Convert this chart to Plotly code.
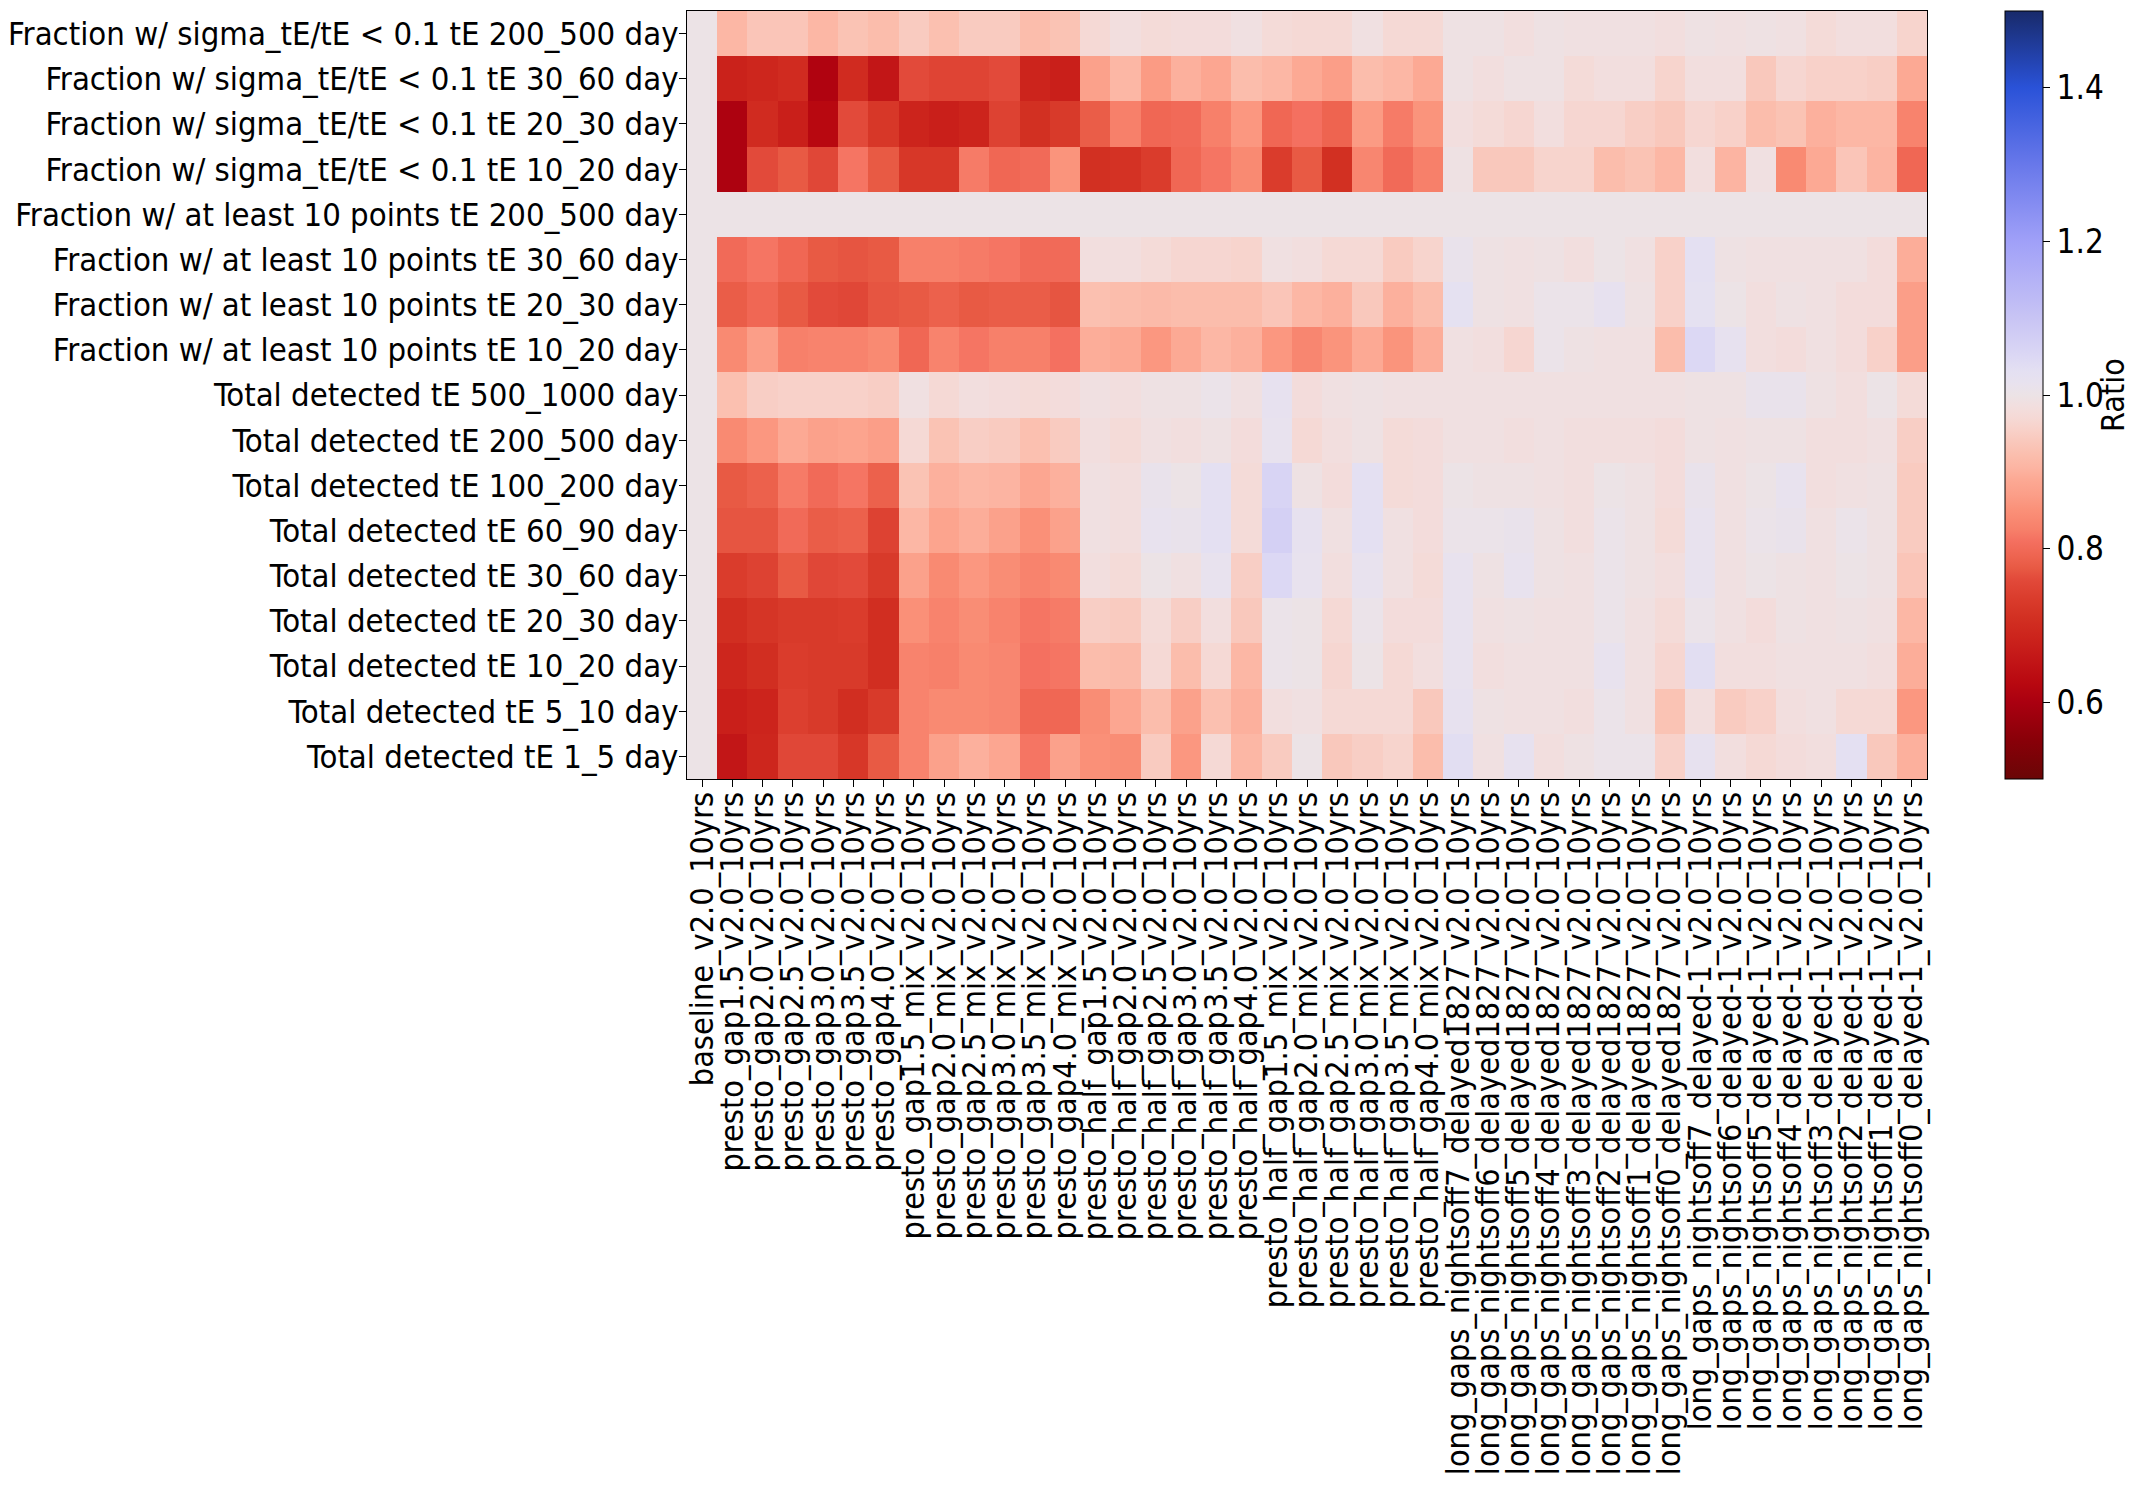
import plotly.graph_objects as go

# run names (columns)
runs = [
    "baseline_v2.0_10yrs",
    "presto_gap1.5_v2.0_10yrs", "presto_gap2.0_v2.0_10yrs", "presto_gap2.5_v2.0_10yrs",
    "presto_gap3.0_v2.0_10yrs", "presto_gap3.5_v2.0_10yrs", "presto_gap4.0_v2.0_10yrs",
    "presto_gap1.5_mix_v2.0_10yrs", "presto_gap2.0_mix_v2.0_10yrs", "presto_gap2.5_mix_v2.0_10yrs",
    "presto_gap3.0_mix_v2.0_10yrs", "presto_gap3.5_mix_v2.0_10yrs", "presto_gap4.0_mix_v2.0_10yrs",
    "presto_half_gap1.5_v2.0_10yrs", "presto_half_gap2.0_v2.0_10yrs", "presto_half_gap2.5_v2.0_10yrs",
    "presto_half_gap3.0_v2.0_10yrs", "presto_half_gap3.5_v2.0_10yrs", "presto_half_gap4.0_v2.0_10yrs",
    "presto_half_gap1.5_mix_v2.0_10yrs", "presto_half_gap2.0_mix_v2.0_10yrs", "presto_half_gap2.5_mix_v2.0_10yrs",
    "presto_half_gap3.0_mix_v2.0_10yrs", "presto_half_gap3.5_mix_v2.0_10yrs", "presto_half_gap4.0_mix_v2.0_10yrs",
    "long_gaps_nightsoff7_delayed1827_v2.0_10yrs", "long_gaps_nightsoff6_delayed1827_v2.0_10yrs",
    "long_gaps_nightsoff5_delayed1827_v2.0_10yrs", "long_gaps_nightsoff4_delayed1827_v2.0_10yrs",
    "long_gaps_nightsoff3_delayed1827_v2.0_10yrs", "long_gaps_nightsoff2_delayed1827_v2.0_10yrs",
    "long_gaps_nightsoff1_delayed1827_v2.0_10yrs", "long_gaps_nightsoff0_delayed1827_v2.0_10yrs",
    "long_gaps_nightsoff7_delayed-1_v2.0_10yrs", "long_gaps_nightsoff6_delayed-1_v2.0_10yrs",
    "long_gaps_nightsoff5_delayed-1_v2.0_10yrs", "long_gaps_nightsoff4_delayed-1_v2.0_10yrs",
    "long_gaps_nightsoff3_delayed-1_v2.0_10yrs", "long_gaps_nightsoff2_delayed-1_v2.0_10yrs",
    "long_gaps_nightsoff1_delayed-1_v2.0_10yrs", "long_gaps_nightsoff0_delayed-1_v2.0_10yrs",
]

# metric names (rows, top to bottom)
metrics = [
    "Fraction w/ sigma_tE/tE < 0.1 tE 200_500 day",
    "Fraction w/ sigma_tE/tE < 0.1 tE 30_60 day",
    "Fraction w/ sigma_tE/tE < 0.1 tE 20_30 day",
    "Fraction w/ sigma_tE/tE < 0.1 tE 10_20 day",
    "Fraction w/ at least 10 points tE 200_500 day",
    "Fraction w/ at least 10 points tE 30_60 day",
    "Fraction w/ at least 10 points tE 20_30 day",
    "Fraction w/ at least 10 points tE 10_20 day",
    "Total detected tE 500_1000 day",
    "Total detected tE 200_500 day",
    "Total detected tE 100_200 day",
    "Total detected tE 60_90 day",
    "Total detected tE 30_60 day",
    "Total detected tE 20_30 day",
    "Total detected tE 10_20 day",
    "Total detected tE 5_10 day",
    "Total detected tE 1_5 day",
]

# ratio to baseline, one list per metric
sigma_200_500 = [1.0, .91, .935, .935, .91, .93, .92, .945, .925, .945, .945, .92, .93, .97, .985, .975, .98, .98, .99, .975,
                 .97, .97, .99, .97, .97, .995, .995, .985, .995, .99, .99, .99, .985, .995, .99, .995, .99, .975, .985, .985, .96]
sigma_30_60 = [1.0, .68, .69, .70, .61, .70, .655, .76, .75, .75, .76, .685, .675, .875, .91, .865, .90, .885, .92, .91,
               .89, .87, .92, .91, .89, .995, .985, .995, .995, .975, .985, .985, .96, .985, .985, .94, .965, .955, .955, .95, .89]
sigma_20_30 = [1.0, .605, .70, .675, .625, .76, .725, .685, .675, .685, .745, .71, .73, .78, .825, .795, .80, .825, .86, .795,
               .81, .79, .865, .82, .855, .985, .975, .965, .985, .965, .965, .95, .94, .965, .955, .92, .93, .90, .91, .91, .83]
sigma_10_20 = [1.0, .605, .76, .775, .755, .815, .775, .725, .725, .82, .795, .80, .855, .71, .715, .735, .795, .815, .84, .735,
               .775, .71, .835, .80, .825, .995, .94, .94, .96, .96, .92, .93, .91, .985, .905, .99, .84, .89, .935, .905, .795]
pts_200_500 = [1.0] * 41
pts_30_60 = [1.0, .80, .815, .795, .775, .77, .775, .825, .825, .82, .815, .80, .80, .985, .985, .975, .965, .965, .96, .99,
             .985, .97, .97, .945, .96, 1.01, .995, .99, .995, .985, 1.0, .99, .955, 1.03, .995, .99, .99, .99, .99, .98, .895]
pts_20_30 = [1.0, .78, .795, .775, .76, .755, .77, .775, .785, .775, .78, .78, .77, .925, .92, .915, .92, .92, .92, .935,
             .91, .90, .94, .90, .92, 1.025, .995, .99, 1.005, 1.005, 1.02, .995, .955, 1.025, 1.0, .985, .995, .99, .98, .98, .87]
pts_10_20 = [1.0, .84, .87, .825, .83, .83, .84, .795, .83, .815, .825, .825, .81, .895, .89, .86, .89, .91, .90, .86,
             .835, .855, .89, .855, .895, .99, .985, .965, 1.005, .995, .99, .99, .92, 1.05, 1.02, .985, .98, .99, .98, .955, .87]
tot_500_1000 = [1.0, .925, .95, .955, .955, .955, .95, .99, .97, .985, .98, .975, .98, .99, .985, .995, .995, 1.005, .99, 1.02,
                .98, .99, .995, .99, .99, .99, .99, .99, .99, .99, .99, .99, .99, .995, .995, 1.01, 1.01, .995, .985, 1.0, .975]
tot_200_500 = [1.0, .84, .86, .89, .875, .88, .87, .97, .93, .95, .945, .925, .945, .985, .975, .99, .985, .995, .98, 1.015,
               .97, .985, .995, .975, .98, .99, .99, .985, .99, .985, .985, .985, .98, .995, .99, .995, .995, .985, .985, .99, .95]
tot_100_200 = [1.0, .775, .785, .82, .80, .815, .785, .93, .90, .91, .905, .885, .90, .99, .985, 1.01, 1.0, 1.03, .975, 1.06,
               .995, .98, 1.03, .975, .98, 1.0, .995, .995, .99, .985, 1.0, .995, .98, 1.01, .99, 1.0, 1.015, .985, .99, .995, .945]
tot_60_90 = [1.0, .77, .77, .80, .78, .785, .745, .91, .88, .895, .875, .85, .875, .99, .985, 1.015, 1.01, 1.03, .975, 1.07,
             1.02, .99, 1.03, .99, .98, 1.005, 1.005, 1.01, .995, .985, 1.005, .995, .975, 1.015, .99, 1.005, 1.01, .99, 1.005, .995, .945]
tot_30_60 = [1.0, .735, .745, .775, .755, .76, .73, .875, .84, .86, .845, .83, .84, .985, .975, 1.0, .99, 1.015, .95, 1.05,
             1.015, .985, 1.015, .99, .975, 1.015, .995, 1.015, .995, .99, 1.005, .995, .985, 1.015, .99, 1.0, .995, .99, 1.0, .995, .935]
tot_20_30 = [1.0, .705, .72, .73, .73, .735, .705, .85, .83, .845, .83, .815, .82, .95, .945, .975, .95, .985, .94, 1.005,
             1.0, .97, 1.005, .98, .98, 1.015, .99, .995, .99, .99, 1.005, .99, .975, 1.005, .99, .98, .995, .99, .995, .99, .91]
tot_10_20 = [1.0, .69, .705, .735, .73, .73, .705, .83, .825, .84, .835, .81, .815, .92, .915, .97, .92, .97, .91, 1.005,
             1.0, .965, 1.0, .97, .985, 1.015, .985, .99, .99, .99, 1.015, .99, .965, 1.035, .985, .985, .99, .99, .99, .985, .895]
tot_5_10 = [1.0, .675, .685, .74, .73, .705, .73, .83, .84, .84, .835, .795, .795, .845, .885, .92, .875, .925, .90, .985,
            .99, .97, .97, .97, .94, 1.02, .995, .99, .99, .985, 1.005, .99, .93, .985, .945, .955, .985, .99, .97, .97, .86]
tot_1_5 = [1.0, .655, .69, .755, .755, .725, .775, .83, .875, .90, .885, .815, .875, .85, .845, .945, .86, .97, .91, .945,
           1.0, .94, .95, .96, .92, 1.035, .99, 1.02, .985, .995, 1.005, 1.005, .955, 1.02, .985, .97, .98, .985, 1.03, .94, .90]

z = [sigma_200_500, sigma_30_60, sigma_20_30, sigma_10_20,
     pts_200_500, pts_30_60, pts_20_30, pts_10_20,
     tot_500_1000, tot_200_500, tot_100_200, tot_60_90, tot_30_60,
     tot_20_30, tot_10_20, tot_5_10, tot_1_5]

# diverging dark red -> light grey -> dark blue, sampled off the reference colorbar (0.5 .. 1.5)
cscale = [
    [0.000, "#6a0606"], [0.050, "#880008"], [0.100, "#aa0010"], [0.125, "#b80810"],
    [0.160, "#c41818"], [0.185, "#cc241c"], [0.210, "#d23022"], [0.235, "#da3c2c"],
    [0.260, "#e24a3a"], [0.275, "#e85a44"], [0.290, "#ee6450"], [0.310, "#f47060"],
    [0.325, "#f7806a"], [0.350, "#fa9078"], [0.370, "#fb9e88"], [0.390, "#fca994"],
    [0.405, "#fcb4a2"], [0.420, "#fbbdac"], [0.440, "#f9c8bc"], [0.455, "#f8d1c9"],
    [0.470, "#f5d9d5"], [0.485, "#f2dede"], [0.500, "#ece3e6"], [0.515, "#e8e2ee"],
    [0.530, "#e4e0f2"], [0.550, "#dcd8f4"], [0.570, "#d4d0f4"], [0.600, "#c8c4f4"],
    [0.700, "#a0a0f8"], [0.800, "#6878ea"], [0.900, "#2a52d8"], [1.000, "#182a6a"],
]

family = "DejaVu Sans Condensed, DejaVu Sans"
yfont = dict(family=family, size=32.6, color="black")
xfont = dict(family=family, size=32.2, color="black")
cfont = dict(family=family, size=33, color="black")

fig = go.Figure(go.Heatmap(
    z=z, x=runs, y=metrics,
    zmin=0.5, zmax=1.5,
    colorscale=cscale,
    colorbar=dict(
        thickness=38, len=1, lenmode="fraction",
        x=1.063, xanchor="left", y=0.5, yanchor="middle", xpad=0, ypad=0,
        outlinewidth=1, outlinecolor="black",
        ticks="outside", ticklen=7, tickcolor="black",
        tickvals=[0.6, 0.8, 1.0, 1.2, 1.4], tickformat=".1f",
        tickfont=cfont,
    ),
))

# colorbar label
fig.add_annotation(
    text="Ratio", xref="paper", yref="paper", x=1.15, y=0.5,
    xanchor="center", yanchor="middle", textangle=-90,
    showarrow=False, borderpad=0, font=dict(family=family, size=32, color="black"),
)

fig.update_xaxes(
    tickmode="array", tickvals=runs, tickangle=-90,
    ticks="outside", ticklen=7, tickcolor="black", ticklabelstandoff=-8,
    showline=True, mirror=True, linecolor="black", linewidth=1,
    showgrid=False, automargin=False, tickfont=xfont,
)
fig.update_yaxes(
    tickmode="array", tickvals=metrics, autorange="reversed",
    ticks="outside", ticklen=7, tickcolor="black", ticklabelstandoff=-6,
    showline=True, mirror=True, linecolor="black", linewidth=1,
    showgrid=False, automargin=False, tickfont=yfont,
)

# page body has an 8 px margin, so keep the figure inside the window
fig.update_layout(
    width=2126, height=1470,
    margin=dict(l=679, r=207, t=3, b=699, autoexpand=False),
    paper_bgcolor="white", plot_bgcolor="white",
    font=cfont,
)

fig.write_html("out.html")
